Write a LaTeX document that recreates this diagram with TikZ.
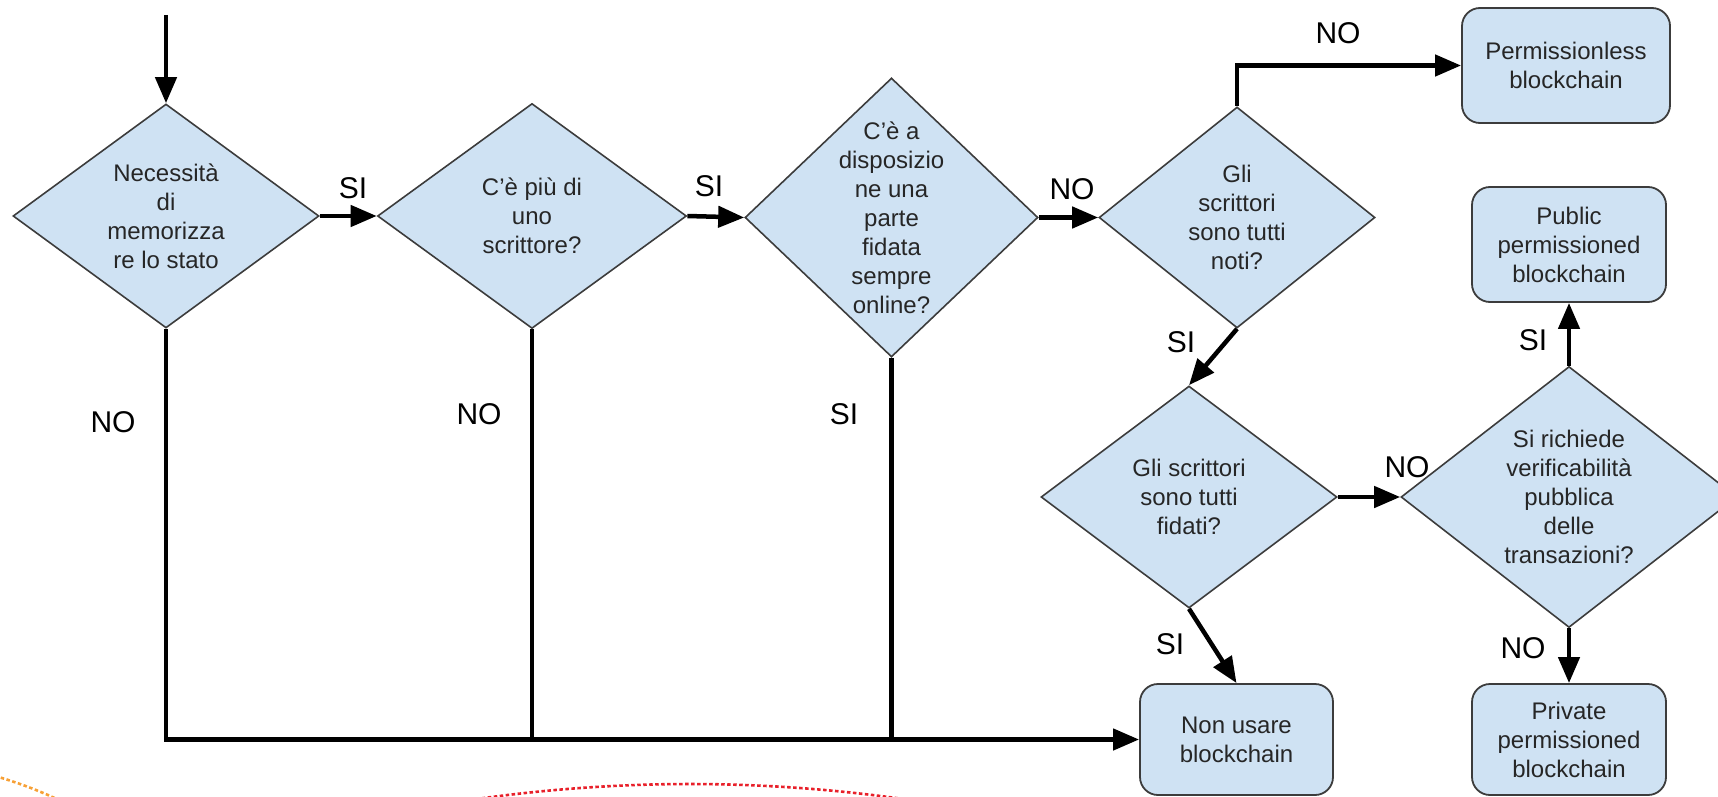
\documentclass[tikz,border=0pt]{standalone}
\usepackage{fontspec}
\setmainfont{Liberation Sans}
\usetikzlibrary{shapes.geometric,arrows.meta}
\definecolor{fillblue}{HTML}{CFE2F3}
\definecolor{edgegray}{HTML}{3C3C3C}
\definecolor{dotorange}{HTML}{F7A035}
\definecolor{dotred}{HTML}{E8202A}
\begin{document}
\begin{tikzpicture}[x=1pt,y=-1pt,
  dia/.style={diamond, draw=edgegray, line width=1.6pt, fill=fillblue, inner sep=0pt},
  endbox/.style={rectangle, rounded corners=18pt, draw=edgegray, line width=1.8pt, fill=fillblue, inner sep=0pt, align=center, font=\fontsize{24}{29}\selectfont, text=black!85},
  qtext/.style={align=center, font=\fontsize{24}{29}\selectfont, text=black!85, inner sep=0pt},
  lbl/.style={font=\fontsize{30}{36}\selectfont, inner sep=0pt},
  conn/.style={line width=4.5pt, -{Triangle[length=26pt,width=21pt]}},
  plainline/.style={line width=4.5pt},
  dotline/.style={line width=2.6pt, dash pattern=on 3.5pt off 2.5pt}
]
\path[use as bounding box] (0,0) rectangle (1718,797);
\clip (0,0) rectangle (1718,797);

% decision diamonds
\node[dia, minimum width=306pt, minimum height=224pt] (d1) at (166,216) {};
\node[qtext] (t1) at (d1) {Necessità\\di\\memorizza\\re lo stato};
\node[dia, minimum width=309pt, minimum height=225pt] (d2) at (532,216) {};
\node[qtext] (t2) at (d2) {C’è più di\\uno\\scrittore?};
\node[dia, minimum width=293pt, minimum height=279pt] (d3) at (891.5,217.5) {};
\node[qtext] (t3) at (d3) {C’è a\\disposizio\\ne una\\parte\\fidata\\sempre\\online?};
\node[dia, minimum width=276pt, minimum height=221pt] (d4) at (1237,217.5) {};
\node[qtext] (t4) at (d4) {Gli\\scrittori\\sono tutti\\noti?};
\node[dia, minimum width=296pt, minimum height=222pt] (d5) at (1189,497) {};
\node[qtext] (t5) at (d5) {Gli scrittori\\sono tutti\\fidati?};
\node[dia, minimum width=336pt, minimum height=261pt] (d6) at (1569,497) {};
\node[qtext] (t6) at (d6) {Si richiede\\verificabilità\\pubblica\\delle\\transazioni?};

% end boxes
\node[endbox, minimum width=208pt, minimum height=115pt] (perm) at (1566,65.5) {Permissionless\\blockchain};
\node[endbox, minimum width=194pt, minimum height=115pt] (pub) at (1569,244.5) {Public\\permissioned\\blockchain};
\node[endbox, minimum width=193pt, minimum height=111pt] (nonusare) at (1236.5,739.5) {Non usare\\blockchain};
\node[endbox, minimum width=194pt, minimum height=111pt] (priv) at (1569,739.5) {Private\\permissioned\\blockchain};

% connectors
\coordinate (start) at (166,15);
\draw[conn] (start) -- (d1.north);
\draw[conn] (d1.east) -- (d2.west);
\draw[conn] (d2.east) -- (d3.west);
\draw[conn] (d3.east) -- (d4.west);
\draw[conn] (d4.north) |- (perm.west);
\draw[conn] (d4.south) -- (d5.north);
\draw[conn] (d5.east) -- (d6.west);
\draw[conn] (d6.north) -- (pub.south);
\draw[conn] (d6.south) -- (priv.north);
\draw[conn] (d5.south) -- (nonusare.north);
\draw[conn] (d1.south) |- (nonusare.west);
\draw[plainline] (d2.south) -- (d2.south |- nonusare.west);
\draw[plainline] (d3.south) -- (d3.south |- nonusare.west);

% labels
\node[lbl] (l1) at (353,188) {SI};
\node[lbl] (l2) at (709,186) {SI};
\node[lbl] (l3) at (1072,189) {NO};
\node[lbl] (l4) at (1338,33) {NO};
\node[lbl] (l5) at (1181,342) {SI};
\node[lbl] (l6) at (1170,644) {SI};
\node[lbl] (l7) at (1407,467) {NO};
\node[lbl] (l8) at (1533,340) {SI};
\node[lbl] (l9) at (1523,648) {NO};
\node[lbl] (l10) at (113,422) {NO};
\node[lbl] (l11) at (479,414) {NO};
\node[lbl] (l12) at (844,414) {SI};

% dotted arcs at the bottom edge
\draw[dotline, dotorange] (-5,776) .. controls (20,783) and (45,793) .. (65,803);
\draw[dotline, dotred] (470,800) .. controls (616.7,778.7) and (763.3,778.7) .. (910,800);
\end{tikzpicture}
\end{document}
